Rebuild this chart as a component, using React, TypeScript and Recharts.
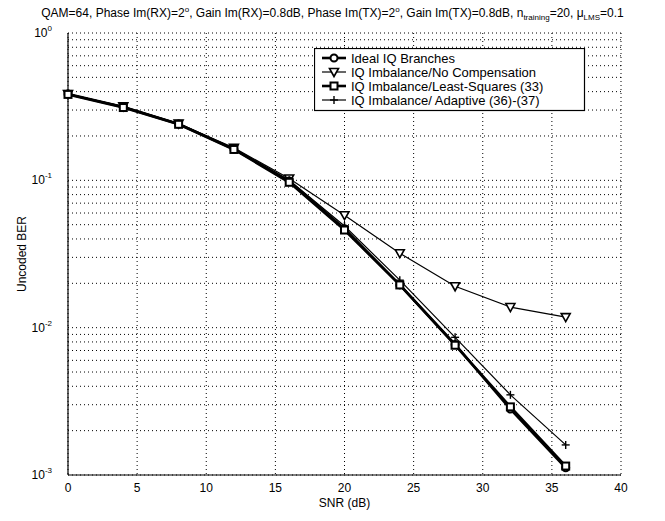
import { LineChart, Line, XAxis, YAxis, CartesianGrid } from "recharts";

const snr = [0, 4, 8, 12, 16, 20, 24, 28, 32, 36];
const ideal = [0.385, 0.315, 0.241, 0.163, 0.099, 0.047, 0.0195, 0.0077, 0.0028, 0.00112];
const noComp = [0.385, 0.318, 0.243, 0.166, 0.103, 0.058, 0.032, 0.0191, 0.0138, 0.0118];
const leastSq = [0.383, 0.312, 0.24, 0.162, 0.097, 0.046, 0.0195, 0.0076, 0.0029, 0.00115];
const adaptive = [0.386, 0.316, 0.242, 0.164, 0.1, 0.049, 0.021, 0.0086, 0.0035, 0.0016];

const xTicks = [0, 5, 10, 15, 20, 25, 30, 35, 40];
const decades = [0.001, 0.01, 0.1];
const yTicks = [...decades.flatMap((d) => [1, 2, 3, 4, 5, 6, 7, 8, 9].map((m) => +(m * d).toPrecision(3))), 1];

const data = snr.map((s, i) => ({
  snr: s,
  ideal: ideal[i],
  noComp: noComp[i],
  leastSq: leastSq[i],
  adaptive: adaptive[i],
}));

const FONT = "'Liberation Sans', Arial, sans-serif";

const CircleDot = (p: any) => (
  <circle key={p.index} cx={p.cx} cy={p.cy} r={3.5} fill="#fff" stroke="#000" strokeWidth={2} />
);
const TriDot = (p: any) => (
  <path
    key={p.index}
    d={`M${p.cx - 4.5},${p.cy - 3.5} L${p.cx + 4.5},${p.cy - 3.5} L${p.cx},${p.cy + 4.5} Z`}
    fill="#fff"
    stroke="#000"
    strokeWidth={1.6}
  />
);
const SquareDot = (p: any) => (
  <rect key={p.index} x={p.cx - 3.5} y={p.cy - 3.5} width={7} height={7} fill="#fff" stroke="#000" strokeWidth={2} />
);
const PlusDot = (p: any) => (
  <g key={p.index} stroke="#000" strokeWidth={1.4}>
    <line x1={p.cx - 4} y1={p.cy} x2={p.cx + 4} y2={p.cy} />
    <line x1={p.cx} y1={p.cy - 4} x2={p.cx} y2={p.cy + 4} />
  </g>
);

const YTick = (p: any) => {
  const v = p.payload.value;
  const e = Math.round(Math.log10(v));
  if (Math.abs(Math.pow(10, e) - v) > 1e-9) return <g />;
  return (
    <text x={p.x - 8} y={p.y + 4} textAnchor="end" fontSize={12} fontFamily={FONT} fill="#000">
      10
      <tspan dy={-6} fontSize={8}>
        {e}
      </tspan>
    </text>
  );
};

const legendItems = [
  { label: "Ideal IQ Branches", Dot: CircleDot, w: 2.6 },
  { label: "IQ Imbalance/No Compensation", Dot: TriDot, w: 1.2 },
  { label: "IQ Imbalance/Least-Squares (33)", Dot: SquareDot, w: 2.6 },
  { label: "IQ Imbalance/ Adaptive (36)-(37)", Dot: PlusDot, w: 1.2 },
];

export default function App() {
  return (
    <div style={{ position: "absolute", left: 0, top: 0, width: 665, height: 521, background: "#fff", fontFamily: FONT }}>
      <LineChart width={665} height={521} data={data} margin={{ top: 33, right: 44, bottom: 16, left: 0 }}>
        <CartesianGrid stroke="#000" strokeDasharray="1 3" strokeWidth={1} />
        <XAxis
          dataKey="snr"
          type="number"
          domain={[0, 40]}
          ticks={xTicks}
          tickLine={false}
          axisLine={{ stroke: "#000", strokeWidth: 1.2 }}
          tick={{ fontSize: 12, fill: "#000", fontFamily: FONT }}
          height={30}
        />
        <XAxis
          xAxisId="top"
          dataKey="snr"
          type="number"
          orientation="top"
          domain={[0, 40]}
          ticks={xTicks}
          tick={false}
          tickLine={false}
          axisLine={{ stroke: "#000", strokeWidth: 1.2 }}
          height={0}
        />
        <YAxis
          scale="log"
          type="number"
          domain={[0.001, 1]}
          allowDataOverflow
          ticks={yTicks}
          interval={0}
          tickLine={false}
          axisLine={{ stroke: "#000", strokeWidth: 1.2 }}
          tick={<YTick />}
          width={68}
        />
        <YAxis
          yAxisId="right"
          orientation="right"
          scale="log"
          type="number"
          domain={[0.001, 1]}
          allowDataOverflow
          tick={false}
          tickLine={false}
          axisLine={{ stroke: "#000", strokeWidth: 1.2 }}
          width={0}
        />
        <Line dataKey="noComp" stroke="#000" strokeWidth={1.2} dot={TriDot} isAnimationActive={false} />
        <Line dataKey="adaptive" stroke="#000" strokeWidth={1.2} dot={PlusDot} isAnimationActive={false} />
        <Line dataKey="ideal" stroke="#000" strokeWidth={2.6} dot={CircleDot} isAnimationActive={false} />
        <Line dataKey="leastSq" stroke="#000" strokeWidth={2.6} dot={SquareDot} isAnimationActive={false} />
      </LineChart>

      <div
        style={{
          position: "absolute",
          left: 0,
          width: 665,
          top: 5,
          textAlign: "center",
          fontSize: 12,
          whiteSpace: "nowrap",
        }}
      >
        QAM=64, Phase Im(RX)=2<sup style={{ fontSize: 8 }}>o</sup>, Gain Im(RX)=0.8dB, Phase Im(TX)=2
        <sup style={{ fontSize: 8 }}>o</sup>, Gain Im(TX)=0.8dB, n<sub style={{ fontSize: 8 }}>training</sub>=20, μ
        <sub style={{ fontSize: 8 }}>LMS</sub>=0.1
      </div>

      <div
        style={{
          position: "absolute",
          left: 0,
          width: 665,
          top: 496,
          textAlign: "center",
          paddingLeft: 24,
          boxSizing: "border-box",
          fontSize: 12,
        }}
      >
        SNR (dB)
      </div>
      <div
        style={{
          position: "absolute",
          left: 22,
          top: 254,
          transform: "translate(-50%, -50%) rotate(-90deg)",
          fontSize: 12,
          whiteSpace: "nowrap",
        }}
      >
        Uncoded BER
      </div>

      <svg style={{ position: "absolute", left: 314, top: 48 }} width={272} height={64}>
        <rect x={0.5} y={0.5} width={270} height={62} fill="#fff" stroke="#000" strokeWidth={1.2} />
        {legendItems.map((it, i) => {
          const y = 10 + i * 14;
          return (
            <g key={it.label}>
              <line x1={8} y1={y} x2={32} y2={y} stroke="#000" strokeWidth={it.w} />
              {it.Dot({ cx: 20, cy: y, index: i })}
              <text x={37} y={y + 4.5} fontSize={13} fontFamily={FONT} fill="#000">
                {it.label}
              </text>
            </g>
          );
        })}
      </svg>
    </div>
  );
}
